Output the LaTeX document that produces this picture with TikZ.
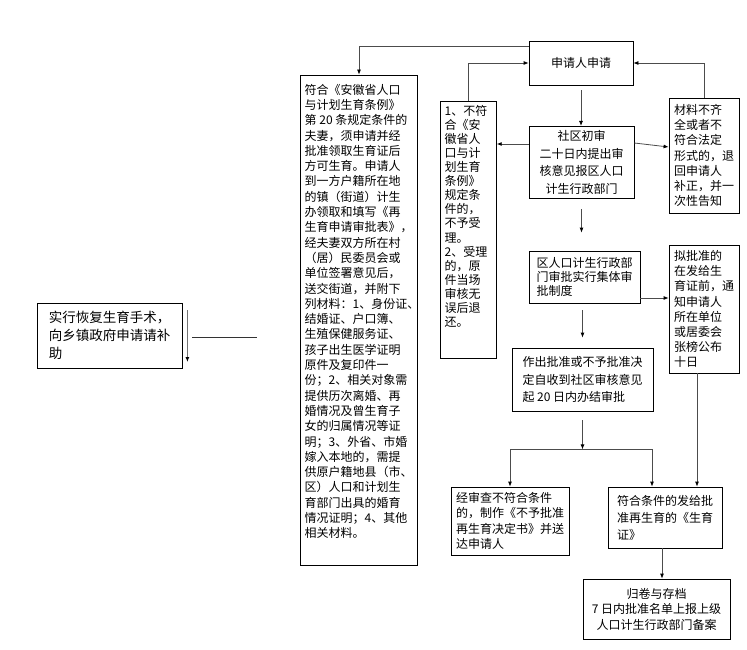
\documentclass[tikz,border=0pt]{standalone}
\usepackage{fontspec}
\setmainfont{Noto Sans CJK SC}
\usepackage{tikz}
\usetikzlibrary{calc,arrows.meta}
\tikzstyle{flowbox}=[rectangle,draw=black,fill=white,line width=0.8pt,
                     font=\fontsize{12}{15.3}\selectfont,inner sep=4pt,align=left]
\tikzstyle{flowline}=[draw=black!70,line width=0.8pt,
                      -{Latex[length=5pt,width=4pt,color=black]}]
\newcommand\boxtext[3]{\parbox[c][#2][t]{#1}{#3}}
\newcommand\pitch[1]{\fontsize{12}{#1}\selectfont}

\begin{document}
\begin{tikzpicture}[x=1pt,y=-1pt]
    \useasboundingbox (0,0) rectangle (747,650);

    % left column
    \node [flowbox,font=\fontsize{13.5}{18}\selectfont,minimum width=145pt,minimum height=65pt] (help) at (109.5,335.5) {%
        实行恢复生育手术，\\向乡镇政府申请请补\\助%
    };
    \node [flowbox] (rules) at (359,320) {
        \boxtext{106pt}{482pt}{\vspace*{5pt}符合《安徽省人口\\
        与计划生育条例》\\
        第~20~条规定条件的\\
        夫妻，须申请并经\\
        批准领取生育证后\\
        方可生育。申请人\\
        到一方户籍所在地\\
        的镇（街道）计生\\
        办领取和填写《再\\
        生育申请审批表》，\\
        经夫妻双方所在村\\
        （居）民委员会或\\
        单位签署意见后，\\
        送交街道，并附下\\
        列材料：1、身份证、\\
        结婚证、户口簿、\\
        生殖保健服务证、\\
        孩子出生医学证明\\
        原件及复印件一\\
        份；2、相关对象需\\
        提供历次离婚、再\\
        婚情况及曾生育子\\
        女的归属情况等证\\
        明；3、外省、市婚\\
        嫁入本地的，需提\\
        供原户籍地县（市、\\
        区）人口和计划生\\
        育部门出具的婚育\\
        情况证明；4、其他\\
        相关材料。}
    };
    \node [flowbox,font=\pitch{14.1}] (reject) at (468.5,229.5) {
        \boxtext{45pt}{249pt}{1、不符\\合《安\\徽省人\\口与计\\划生育\\条例》\\规定条\\件的，\\不予受\\理。\\2、受理\\的，原\\件当场\\审核无\\误后退\\还。}
    };

    % main column
    \node [flowbox,align=center,minimum width=104pt,minimum height=44pt] (apply) at (581,63) {申请人申请};
    \node [flowbox,align=center,font=\pitch{17.7},minimum width=105pt,minimum height=69pt] (review) at (581.5,162.5) {
        社区初审\\二十日内提出审\\核意见报区人口\\计生行政部门
    };
    \node [flowbox,font=\pitch{14},minimum width=111pt,minimum height=52pt] (district) at (584.5,277) {
        区人口计生行政部\\门审批实行集体审\\批制度
    };
    \node [flowbox,font=\pitch{17.5},minimum width=141pt,minimum height=63pt] (decision) at (582.5,379.5) {
        作出批准或不予批准决\\定自收到社区审核意见\\起 20 日内办结审批
    };
    \node [flowbox,minimum width=118pt,minimum height=68pt] (refuse) at (510,521) {
        经审查不符合条件\\的，制作《不予批准\\再生育决定书》并送\\达申请人
    };
    \node [flowbox,font=\pitch{17},minimum width=114pt,minimum height=61pt] (grant) at (665,517.5) {
        符合条件的发给批\\准再生育的《生育\\证》
    };
    \node [flowbox,align=center,font=\pitch{15.5},minimum width=147pt,minimum height=60pt] (archive) at (656.5,609) {
        归卷与存档\\7 日内批准名单上报上级\\人口计生行政部门备案
    };

    % right column
    \node [flowbox,minimum width=70pt,minimum height=115pt] (material) at (704,155.5) {
        材料不齐\\全或者不\\符合法定\\形式的，退\\回申请人\\补正，并一\\次性告知
    };
    \node [flowbox,font=\pitch{15.1},minimum width=70pt,minimum height=128pt] (notice) at (704,309) {
        拟批准的\\在发给生\\育证前，通\\知申请人\\所在单位\\或居委会\\张榜公布\\十日
    };

    % helper points
    \coordinate (rv) at ([yshift=18.5pt]review.west);
    \coordinate (ds) at ([yshift=-21pt]district.east);
    \coordinate (fork) at ([yshift=-38pt]decision.south);
    \coordinate (ns) at ([xshift=-7pt]notice.south);
    \coordinate (gs) at ([xshift=-3pt]grant.south);
    \coordinate (helptop) at ($(help.east)+(5,-25.5)$);
    \coordinate (helpbot) at ($(help.east)+(5,26.5)$);
    \coordinate (ha) at ($(help.east)+(10,1.5)$);
    \coordinate (hb) at ($(help.east)+(75,1.5)$);

    % connectors
    \draw [flowline] ([yshift=-6pt]apply.north west) -| (rules.north);
    \draw [flowline] (reject.north) |- (apply.west);
    \draw [flowline] (material.north) |- (apply.east);
    \draw [flowline,shorten <=5pt] (apply.south) -- (apply.south |- review.north);
    \draw [flowline] (rv) -- (rv -| reject.east);
    \draw [flowline] ([yshift=19.5pt]review.east) -- ([yshift=8.5pt]material.west);
    \draw [flowline,shorten <=10pt,shorten >=18pt] (review.south) -- (review.south |- district.north);
    \draw [flowline] (ds) -- (ds -| notice.west);
    \draw [flowline,shorten <=7pt,shorten >=10pt] (decision.north |- district.south) -- (decision.north);
    \draw [flowline,shorten <=9pt] (decision.south) -- (fork);
    \draw [flowline] (fork) -| (refuse.north);
    \draw [flowline] (fork) -| ([xshift=-13pt]grant.north);
    \draw [flowline] (ns) -- (ns |- grant.north);
    \draw [flowline] (gs) -- (gs |- archive.north);
    \draw [flowline,draw=black!55,line width=1.2pt] (helptop) -- (helpbot);
    \draw [draw=black!80,line width=0.8pt] (ha) -- (hb);
\end{tikzpicture}
\end{document}
